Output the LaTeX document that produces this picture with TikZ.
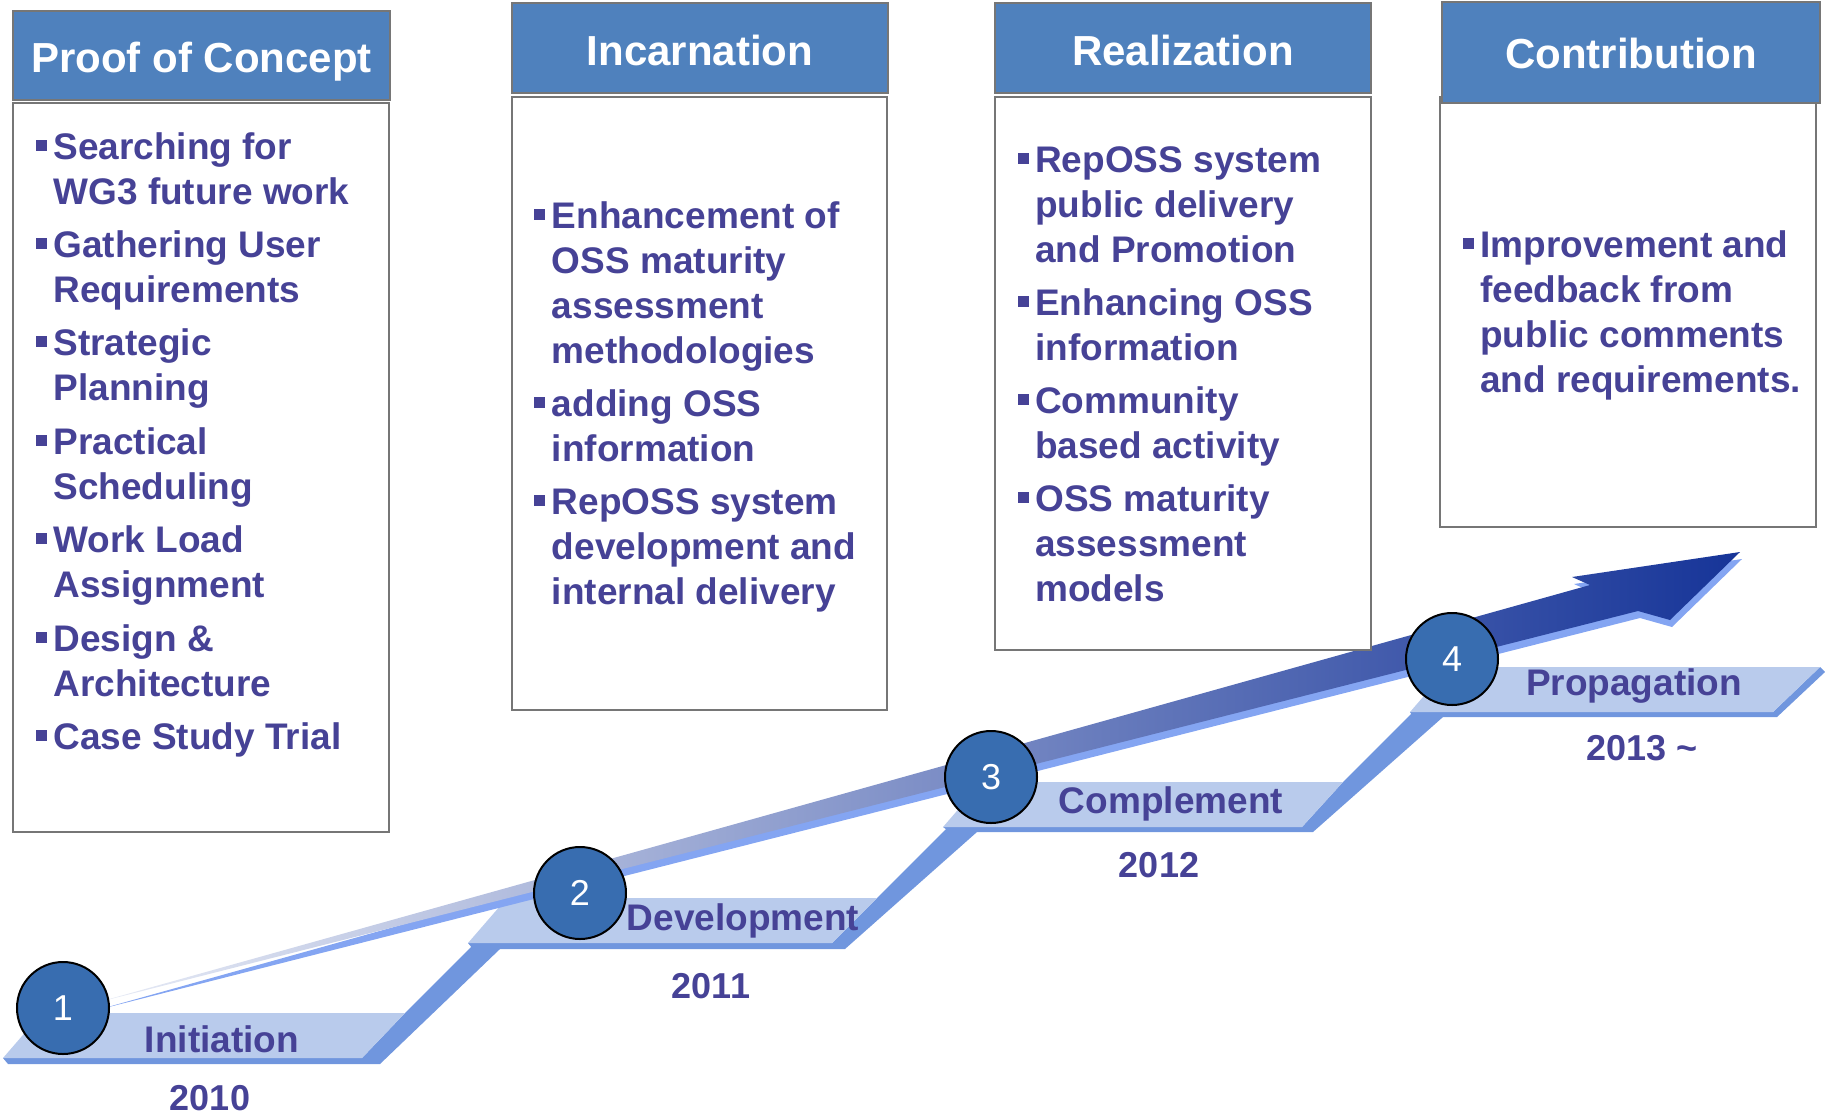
\documentclass[tikz,border=0pt]{standalone}
\usepackage{fontspec}
\setmainfont{Liberation Sans}
\definecolor{hdrblue}{RGB}{79,129,189}
\definecolor{txtc}{RGB}{70,66,150}
\definecolor{bordergray}{RGB}{118,118,118}
\definecolor{platlight}{RGB}{185,203,236}
\definecolor{platdark}{RGB}{112,150,222}
\definecolor{circfill}{RGB}{56,109,176}
\definecolor{shadowblue}{RGB}{132,165,242}
\definecolor{arrowL}{RGB}{232,236,246}
\definecolor{arrowM}{RGB}{138,142,190}
\definecolor{arrowR}{RGB}{22,52,152}
\newcommand\bul{\llap{\rule[8pt]{11pt}{11pt}\kern6.5pt}}
\begin{document}
\begin{tikzpicture}[x=1pt,y=-1pt,
  boxline/.style={draw=bordergray, line width=2pt},
  hdrfill/.style={boxline, fill=hdrblue},
  bodyfill/.style={boxline, fill=white},
  hdrtxt/.style={anchor=base, inner sep=0pt, text=white, font=\fontsize{42}{50}\selectfont\bfseries},
  bodytxt/.style={anchor=base west, inner sep=0pt, text=txtc, font=\fontsize{37}{45}\selectfont\bfseries},
  steplabel/.style={anchor=base, inner sep=0pt, text=txtc, font=\fontsize{37}{45}\selectfont\bfseries},
  yearlabel/.style={anchor=base, inner sep=0pt, text=txtc, font=\fontsize{36}{44}\selectfont\bfseries},
  numcirc/.style={circle, draw=black, line width=2pt, fill=circfill, minimum size=92pt, inner sep=0pt, text=white, font=\fontsize{36}{40}\selectfont},
  darkpart/.style={fill=platdark},
  lightpart/.style={fill=platlight},
  sh/.style={shift={(2,7)}}]
\useasboundingbox (0,0) rectangle (1825,1114);

% ---------- staircase ----------
\fill[darkpart] (8,1064) -- (380,1064) -- (500,949) -- (475,943) -- (405,1013) -- (362,1058) -- (3,1058) -- cycle;
\fill[lightpart] (3,1058) -- (362,1058) -- (405,1013) -- (42,1013) -- cycle;
\fill[darkpart] (473,949) -- (845,949) -- (977,832) -- (948,827) -- (877,898) -- (832,943) -- (468,943) -- cycle;
\fill[lightpart] (468,943) -- (832,943) -- (877,898) -- (507,898) -- cycle;
\fill[darkpart] (950,832) -- (1313,832) -- (1443,717) -- (1413,712) -- (1343,782) -- (1302,827) -- (943,827) -- cycle;
\fill[lightpart] (943,827) -- (1302,827) -- (1343,782) -- (982,782) -- cycle;
\fill[darkpart] (1413,717) -- (1777,717) -- (1825,672) -- (1820,667) -- (1773,712) -- (1410,712) -- cycle;
\fill[lightpart] (1410,712) -- (1773,712) -- (1820,667) -- (1449,667) -- cycle;

% ---------- rising arrow ----------
\coordinate (aS) at (95,1003);
\coordinate (aUn) at (1590,585);
\coordinate (aUb) at (1572,577);
\coordinate (aT) at (1740,552);
\coordinate (aLb) at (1670,620);
\coordinate (aLn) at (1638,611);
\fill[shadowblue] ([sh]aS) -- ([sh]aUn) -- ([sh]aUb) -- ([sh]aT) -- ([sh]aLb) -- ([sh]aLn) -- cycle;
\shade[left color=arrowL, middle color=arrowM, right color=arrowR]
  (aS) -- (aUn) -- (aUb) -- (aT) -- (aLb) -- (aLn) -- cycle;

% ---------- boxes ----------
\draw[bodyfill] (13,103) rectangle (389,832);
\draw[hdrfill] (13,11) rectangle (390,100);
\draw[bodyfill] (512,97) rectangle (887,710);
\draw[hdrfill] (512,3) rectangle (888,93);
\draw[bodyfill] (995,97) rectangle (1371,650);
\draw[hdrfill] (995,3) rectangle (1371,93);
\draw[bodyfill] (1440,97) rectangle (1816,527);
\draw[hdrfill] (1442,1.5) rectangle (1820,103);

\node[hdrtxt] (h1) at (201.5,72) {Proof of Concept};
\node[hdrtxt] (h2) at (700,65) {Incarnation};
\node[hdrtxt] (h3) at (1183,65) {Realization};
\node[hdrtxt] (h4) at (1631,68) {Contribution};

\foreach \yy/\tt [count=\n] in {159/{\bul Searching for}, 204/{WG3 future work},
  257/{\bul Gathering User}, 302/{Requirements}, 355/{\bul Strategic}, 400/{Planning},
  454/{\bul Practical}, 499/{Scheduling}, 552/{\bul Work Load}, 597/{Assignment},
  651/{\bul Design \&}, 696/{Architecture}, 749/{\bul Case Study Trial}}
  \node[bodytxt] (pa\n) at (53.3,\yy) {\tt};

\foreach \yy/\tt [count=\n] in {228/{\bul Enhancement of}, 273/{OSS maturity},
  318/{assessment}, 363/{methodologies}, 416/{\bul adding OSS}, 461/{information},
  514/{\bul RepOSS system}, 559/{development and}, 604/{internal delivery}}
  \node[bodytxt] (pb\n) at (551.7,\yy) {\tt};

\foreach \yy/\tt [count=\n] in {172/{\bul RepOSS system}, 217/{public delivery},
  262/{and Promotion}, 315/{\bul Enhancing OSS}, 360/{information},
  413/{\bul Community}, 458/{based activity}, 511/{\bul OSS maturity},
  556/{assessment}, 601/{models}}
  \node[bodytxt] (pc\n) at (1035,\yy) {\tt};

\foreach \yy/\tt [count=\n] in {257/{\bul Improvement and}, 302/{feedback from},
  347/{public comments}, 392/{and requirements.}}
  \node[bodytxt] (pd\n) at (1480,\yy) {\tt};

% ---------- step labels ----------
\node[steplabel] (s1) at (222,1052) {Initiation};
\node[steplabel] (s2) at (743,930) {Development};
\node[steplabel] (s3) at (1171,813) {Complement};
\node[steplabel] (s4) at (1634,695) {Propagation};
\node[yearlabel] (y1) at (210,1110) {2010};
\node[yearlabel] (y2) at (711,998) {2011};
\node[yearlabel] (y3) at (1159,877) {2012};
\node[yearlabel] (y4) at (1642,760) {2013 \textasciitilde};

% ---------- circles ----------
\node[numcirc] (c1) at (63,1008) {1};
\node[numcirc] (c2) at (580,893) {2};
\node[numcirc] (c3) at (991,777) {3};
\node[numcirc] (c4) at (1452,659) {4};
\end{tikzpicture}
\end{document}
